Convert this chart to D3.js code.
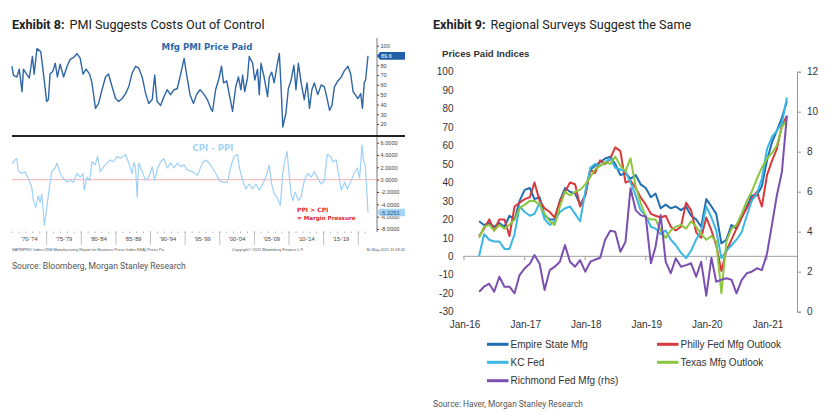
<!DOCTYPE html>
<html><head><meta charset="utf-8">
<script src="https://cdn.jsdelivr.net/npm/d3@7"></script>
<style>body{margin:0;background:#fff}svg{display:block}</style>
</head><body>
<svg id="c" width="839" height="415"></svg>
<script>
// ---------- Exhibit 8 data ----------
const pmiYears = [1970.0,1970.2,1970.7,1971.05,1971.45,1971.65,1972.1,1972.5,1972.95,1973.2,1973.6,1974.15,1974.55,1975.0,1975.25,1975.5,1975.9,1976.25,1976.55,1976.95,1977.45,1977.95,1978.4,1978.9,1979.4,1979.85,1980.25,1980.7,1981.2,1981.55,1982.05,1982.5,1983.0,1983.5,1983.95,1984.45,1984.95,1985.4,1985.9,1986.4,1986.85,1987.35,1987.85,1988.3,1988.8,1989.3,1989.75,1990.25,1990.6,1990.95,1991.45,1991.95,1992.4,1992.9,1993.4,1993.85,1994.35,1994.85,1995.2,1995.7,1996.2,1996.65,1997.15,1997.65,1998.2,1998.7,1998.95,1999.4,1999.9,2000.25,2000.55,2001.0,2001.35,2001.85,2002.3,2002.7,2003.05,2003.3,2003.6,2004.0,2004.25,2004.75,2005.05,2005.45,2005.7,2005.95,2006.4,2006.9,2007.15,2007.5,2007.85,2008.25,2008.6,2008.9,2009.1,2009.55,2009.9,2010.3,2010.7,2011.0,2011.35,2011.75,2012.2,2012.6,2012.95,2013.3,2013.65,2014.15,2014.65,2015.1,2015.5,2015.85,2016.2,2016.55,2017.05,2017.55,2017.95,2018.5,2018.9,2019.25,2019.55,2019.95,2020.35,2020.6,2020.85,2021.05,2021.25,2021.4];
const pmiValues = [79,70,68,76,53,76,71,67,89,71,97,94,71,43,45,71,74,82,68,81,68,79,86,88,92,87,71,76,71,62,36,41,55,68,71,58,46,43,46,51,58,72,79,77,68,51,41,45,70,43,39,48,55,50,55,56,71,87,71,50,41,50,55,51,45,36,33,55,67,79,62,64,51,33,58,68,55,70,53,67,89,82,65,76,50,82,68,48,68,73,62,79,92,50,17,31,56,65,80,55,82,62,45,62,36,55,62,50,60,58,46,34,39,58,64,68,74,79,71,53,50,46,51,36,62,65,79,89.6];

const cpiPpiYears = [1970.0,1970.43,1970.68,1970.9,1971.4,1971.88,1972.36,1972.85,1973.09,1973.43,1973.81,1974.06,1974.3,1974.68,1975.03,1975.4,1975.75,1976.23,1976.48,1976.96,1977.43,1977.93,1978.41,1978.88,1979.38,1979.86,1980.25,1980.43,1980.83,1981.2,1981.55,1982.03,1982.36,1982.75,1983.23,1983.72,1984.2,1984.68,1985.17,1985.65,1986.38,1986.86,1987.35,1987.58,1987.83,1988.07,1988.3,1988.8,1989.28,1989.75,1990.25,1990.58,1990.97,1991.45,1991.93,1992.42,1992.9,1993.38,1993.87,1994.35,1994.83,1995.32,1996.04,1996.77,1997.49,1997.97,1998.45,1998.94,1999.42,1999.9,2000.39,2001.12,2001.59,2002.07,2002.57,2002.8,2003.29,2003.77,2004.25,2004.74,2005.22,2005.7,2006.19,2006.67,2007.14,2007.49,2007.87,2008.36,2008.74,2009.09,2009.42,2009.71,2009.96,2010.29,2010.54,2010.87,2011.35,2011.74,2012.22,2012.71,2013.19,2013.67,2014.16,2014.64,2015.12,2015.51,2015.99,2016.33,2016.81,2017.14,2017.54,2018.01,2018.41,2018.88,2019.38,2019.86,2020.19,2020.54,2020.75,2021.0,2021.2,2021.4];
const cpiPpiValues = [2.6,3.2,3.4,1.5,1.0,1.3,0.2,-1.2,-3.4,-4.5,-2.6,-3.7,-2.3,-7.4,-4.5,-1.2,1.3,1.9,2.7,1.0,0.2,-0.4,-0.1,-0.4,1.0,0.4,1.0,-1.7,0.4,-0.1,2.9,2.4,3.8,1.3,2.1,2.7,3.2,2.9,3.8,3.5,4.1,2.7,1.0,2.7,2.1,-2.8,2.7,1.3,-0.1,0.4,2.1,-0.1,1.6,2.9,3.4,1.9,2.7,1.9,2.7,2.1,2.4,1.6,1.3,0.7,2.7,3.2,2.7,1.9,1.0,-0.1,-0.4,-0.4,2.1,3.8,4.1,2.1,-0.1,-1.5,-0.7,-1.5,-0.7,-1.7,-0.7,0.4,2.4,-0.7,-2.3,-3.1,-4.2,1.0,3.2,4.6,1.5,-2.3,-3.4,-2.0,-3.4,-2.8,-0.1,1.0,0.4,1.3,0.2,-0.7,-0.1,4.1,3.8,2.9,3.2,1.0,-1.7,-0.4,-1.5,-0.4,1.0,1.9,0.2,5.6,2.9,2.4,-1.2,-5.3253];

const pmiTicks = [100,90,80,70,60,50,40,30,20];
const cpiTicks = [6,4,2,0,-2,-4,-6,-8];
const periodStarts = [1970,1975,1980,1985,1990,1995,2000,2005,2010,2015];
const periodLabels = ["'70-'74","'75-'79","'80-'84","'85-'89","'90-'94","'95-'99","'00-'04","'05-'09","'10-'14","'15-'19"];

// ---------- Exhibit 9 data (monthly, Apr-16 .. May-21) ----------
const firstMonth = "2016-04";
const empireState = [19,17,18,16,18,16,22,20,30,36,37,31,32,22,20,20,30,37,35,34,28,33,47,49,51,53,54,50,44,45,42,44,39,37,32,34,26,28,26,27,25,27,22,20,16,31,27,23,7,9,17,15,21,27,33,33,38,52,62,68,75,84];
const phillyFed   = [11,15,20,14,20,20,11,27,29,31,32,40,30,26,24,21,30,35,40,39,27,33,47,45,52,50,53,59,57,40,41,37,32,28,23,22,21,22,16,14,16,29,25,13,10,21,14,6,-8,3,9,15,21,26,31,35,27,44,52,58,71,76];
const kcFed       = [0,12,9,8,8,4,4,12,27,24,22,23,29,20,17,19,24,26,27,23,19,35,48,50,49,51,53,48,47,46,40,33,25,22,16,15,12,14,9,6,2,-1,3,9,14,27,21,14,-1,3,6,9,13,22,30,34,42,58,65,68,72,86];
const texasMfg    = [10,16,17,14,17,15,17,20,26,28,30,30,28,23,19,17,27,35,33,35,36,39,43,47,49,51,50,54,49,46,53,38,29,21,20,20,14,10,14,16,17,15,19,16,12,9,11,8,-20,8,15,17,23,30,35,42,48,53,56,60,70,74];
const richmondFed = [1.0,1.25,1.4,1.0,1.75,1.25,1.25,0.92,1.83,2.17,2.4,2.83,2.4,1.08,2.08,2.25,2.5,3.33,2.5,2.25,2.58,2.0,2.5,2.6,2.7,3.6,4.05,4.0,3.0,3.5,6.17,5.08,4.83,4.75,2.42,3.25,4.83,2.5,1.92,2.67,2.25,2.33,2.42,1.75,2.5,0.8,2.7,1.5,1.6,1.67,1.6,0.92,1.58,1.92,2.0,2.17,2.08,2.9,4.4,5.8,7.0,9.8];
const leftTicks = [100,90,80,70,60,50,40,30,20,10,0,-10,-20,-30];
const rightTicks = [12,10,8,6,4,2,0];
const yearTickLabels = ["Jan-16","Jan-17","Jan-18","Jan-19","Jan-20","Jan-21"];
const seriesNames = ["Empire State Mfg","Philly Fed Mfg Outlook","KC Fed","Texas Mfg Outlook","Richmond Fed Mfg (rhs)"];
const seriesColors = ["#1f6fb2","#d9393b","#3ab7e2","#8cc63f","#7b4fb0"];

// ---------- drawing ----------
const svg = d3.select("#c");

function title(x, y, bold, rest) {
  const t = svg.append("text").attr("x", x).attr("y", y)
    .attr("font-family", "Roboto").attr("font-size", 12.6).attr("fill", "#222");
  t.append("tspan").attr("font-weight", "bold").text(bold);
  t.append("tspan").attr("dx", 5).text(rest);
}
title(12, 29, "Exhibit 8:", "PMI Suggests Costs Out of Control");
title(433, 29, "Exhibit 9:", "Regional Surveys Suggest the Same");

// ===== Exhibit 8 =====
const xL = d3.scaleLinear().domain([1970, 2022.7]).range([12, 377]);
const yTop = d3.scaleLinear().domain([20, 100]).range([124, 45.7]);
const yBot = d3.scaleLinear().domain([-8, 6]).range([229, 142.7]);
const smallFont = "Liberation Sans";

// PMI
svg.append("text").attr("x", 207).attr("y", 49.5).attr("text-anchor", "middle")
  .attr("font-family", "DejaVu Sans").attr("font-weight", "bold").attr("font-size", 8.6)
  .attr("fill", "#2f6aa8").text("Mfg PMI Price Paid");
svg.append("path").datum(pmiYears.map((y, i) => [y, pmiValues[i]]))
  .attr("fill", "none").attr("stroke", "#2e66a6").attr("stroke-width", 1.4)
  .attr("stroke-linejoin", "round")
  .attr("d", d3.line().x(d => xL(d[0])).y(d => yTop(d[1])));

const axTop = svg.append("g").attr("transform", "translate(377,0)")
  .call(d3.axisRight(yTop).tickValues(pmiTicks.filter(t => t !== 90)).tickSize(2).tickPadding(1.5).tickFormat(d3.format("d")));
axTop.select(".domain").remove();
axTop.selectAll("line").attr("stroke", "#444");
axTop.selectAll("text").attr("font-family", smallFont).attr("font-size", 5.6).attr("fill", "#444");

// vertical axis line
svg.append("line").attr("x1", 377).attr("x2", 377).attr("y1", 38).attr("y2", 232).attr("stroke", "#555").attr("stroke-width", 0.8);

// tag 89.6
const lastPmi = pmiValues[pmiValues.length - 1];
svg.append("path").attr("fill", "#1f5fa5")
  .attr("d", `M377,${yTop(lastPmi)} L380,${yTop(lastPmi) - 3.8} L405,${yTop(lastPmi) - 3.8} L405,${yTop(lastPmi) + 3.8} L380,${yTop(lastPmi) + 3.8} Z`);
svg.append("text").attr("x", 381).attr("y", yTop(lastPmi) + 2).attr("font-family", smallFont)
  .attr("font-size", 5.6).attr("fill", "#fff").text(lastPmi.toFixed(1));

// divider
svg.append("line").attr("x1", 12).attr("x2", 405).attr("y1", 136).attr("y2", 136).attr("stroke", "#222").attr("stroke-width", 1.8);

// CPI - PPI
svg.append("line").attr("x1", 12).attr("x2", 377).attr("y1", yBot(0)).attr("y2", yBot(0)).attr("stroke", "#f08c8c").attr("stroke-width", 0.7);
svg.append("text").attr("x", 213).attr("y", 150.5).attr("text-anchor", "middle")
  .attr("font-family", "DejaVu Sans").attr("font-weight", "bold").attr("font-size", 8.6)
  .attr("fill", "#a6d2f5").text("CPI - PPI");
svg.append("path").datum(cpiPpiYears.map((y, i) => [y, cpiPpiValues[i]]))
  .attr("fill", "none").attr("stroke", "#9fd0f7").attr("stroke-width", 1.2)
  .attr("stroke-linejoin", "round")
  .attr("d", d3.line().x(d => xL(d[0])).y(d => yBot(d[1])));

const axBot = svg.append("g").attr("transform", "translate(377,0)")
  .call(d3.axisRight(yBot).tickValues(cpiTicks).tickSize(2).tickPadding(1.5).tickFormat(d => d.toFixed(4)));
axBot.select(".domain").remove();
axBot.selectAll("line").attr("stroke", "#444");
axBot.selectAll("text").attr("font-family", smallFont).attr("font-size", 5.6).attr("fill", "#444");

svg.append("text").attr("x", 297).attr("y", 212).attr("font-family", "DejaVu Sans").attr("font-weight", "bold")
  .attr("font-size", 6).attr("fill", "#e5262b").text("PPI > CPI");
svg.append("text").attr("x", 297).attr("y", 219.5).attr("font-family", "DejaVu Sans").attr("font-weight", "bold")
  .attr("font-size", 5.6).attr("fill", "#e5262b").text("= Margin Pressure");

const lastCpi = cpiPpiValues[cpiPpiValues.length - 1];
svg.append("path").attr("fill", "#a4d3f6")
  .attr("d", `M377,${yBot(lastCpi)} L380,${yBot(lastCpi) - 3.8} L405,${yBot(lastCpi) - 3.8} L405,${yBot(lastCpi) + 3.8} L380,${yBot(lastCpi) + 3.8} Z`);
svg.append("text").attr("x", 380.5).attr("y", yBot(lastCpi) + 2).attr("font-family", smallFont)
  .attr("font-size", 5.6).attr("fill", "#1d4e7e").text(lastCpi.toFixed(4));

// period axis
const yearsAll = d3.range(1970, 2022);
svg.append("g").selectAll("line").data(yearsAll).join("line")
  .attr("x1", d => xL(d)).attr("x2", d => xL(d)).attr("y1", 231.5).attr("y2", 233)
  .attr("stroke", "#777").attr("stroke-width", 0.6);
svg.append("g").selectAll("line").data(periodStarts.slice(1).concat([2020])).join("line")
  .attr("x1", d => xL(d)).attr("x2", d => xL(d)).attr("y1", 231.5).attr("y2", 245)
  .attr("stroke", "#999").attr("stroke-width", 0.6);
svg.append("g").selectAll("text").data(periodLabels).join("text")
  .attr("x", (d, i) => xL(periodStarts[i] + 2.5)).attr("y", 241)
  .attr("text-anchor", "middle").attr("font-family", smallFont).attr("font-size", 5.6).attr("fill", "#444")
  .text(d => d);

const foot = (x, y, t, anchor) => svg.append("text").attr("x", x).attr("y", y).attr("text-anchor", anchor || "start")
  .attr("font-family", smallFont).attr("font-size", 3.9).attr("fill", "#555").text(t);
foot(12, 250.5, "NAPMPRIC Index (ISM Manufacturing Report on Business Prices Index NSA) Prices Pa");
foot(232, 250.5, "Copyright\u00a9 2021 Bloomberg Finance L.P.");
foot(405, 250.5, "30-May-2021 11:09:42", "end");

svg.append("text").attr("x", 12).attr("y", 269).attr("font-family", "Roboto").attr("font-size", 8.6)
  .attr("fill", "#555").text("Source: Bloomberg, Morgan Stanley Research");

// ===== Exhibit 9 =====
const months = d3.timeMonth.range(d3.timeParse("%Y-%m")(firstMonth), new Date(2021, 5, 1));
const xR = d3.scaleTime().domain([new Date(2016, 0, 1), new Date(2021, 0, 1)]).range([464, 767]);
const yL = d3.scaleLinear().domain([-30, 100]).range([311.7, 71.7]);
const yR = d3.scaleLinear().domain([0, 12]).range([311.7, 71.7]);
const arial = "Liberation Sans";

svg.append("text").attr("x", 442).attr("y", 56.5).attr("font-family", arial).attr("font-weight", "bold")
  .attr("font-size", 9.6).attr("fill", "#333").text("Prices Paid Indices");

const axL = svg.append("g").attr("transform", "translate(456,0)")
  .call(d3.axisLeft(yL).tickValues(leftTicks).tickSize(0).tickPadding(2.5).tickFormat(d => String(d)));
axL.select(".domain").remove();
axL.selectAll("text").attr("font-family", arial).attr("font-size", 10).attr("fill", "#333");

const axR = svg.append("g").attr("transform", "translate(797,0)")
  .call(d3.axisRight(yR).tickValues(rightTicks).tickSize(4).tickPadding(6).tickFormat(d => String(d)));
axR.select(".domain").attr("stroke", "#999");
axR.selectAll("line").attr("stroke", "#999");
axR.selectAll("text").attr("font-family", arial).attr("font-size", 10).attr("fill", "#333");

// x axis at zero
const yearDates = d3.range(2016, 2022).map(y => new Date(y, 0, 1));
svg.append("line").attr("x1", 463).attr("x2", 797).attr("y1", yL(0)).attr("y2", yL(0)).attr("stroke", "#a0a0a0").attr("stroke-width", 1);
svg.append("g").selectAll("line").data(yearDates).join("line")
  .attr("x1", d => xR(d)).attr("x2", d => xR(d)).attr("y1", yL(0)).attr("y2", yL(0) + 4)
  .attr("stroke", "#a0a0a0");
svg.append("g").selectAll("text").data(yearTickLabels).join("text")
  .attr("x", (d, i) => xR(yearDates[i]) + 1).attr("y", 328).attr("text-anchor", "middle")
  .attr("font-family", arial).attr("font-size", 10).attr("fill", "#333").text(d => d);

const seriesData = [empireState, phillyFed, kcFed, texasMfg];
const lineL = d3.line().x((d, i) => xR(months[i])).y(d => yL(d));
const lineR = d3.line().x((d, i) => xR(months[i])).y(d => yR(d));
seriesData.forEach((s, k) => {
  svg.append("path").datum(s).attr("fill", "none").attr("stroke", seriesColors[k])
    .attr("stroke-width", 2).attr("stroke-linejoin", "round").attr("d", lineL);
});
svg.append("path").datum(richmondFed).attr("fill", "none").attr("stroke", seriesColors[4])
  .attr("stroke-width", 2).attr("stroke-linejoin", "round").attr("d", lineR);

// legend
const legPos = [[487, 344.3], [657, 344.3], [487, 362.3], [657, 362.3], [487, 380.7]];
seriesNames.forEach((n, i) => {
  const [lx, ly] = legPos[i];
  svg.append("line").attr("x1", lx).attr("x2", lx + 21.5).attr("y1", ly).attr("y2", ly)
    .attr("stroke", seriesColors[i]).attr("stroke-width", 3);
  svg.append("text").attr("x", lx + 23.5).attr("y", ly + 3.6).attr("font-family", arial)
    .attr("font-size", 10).attr("fill", "#333").text(n);
});

svg.append("text").attr("x", 433).attr("y", 407).attr("font-family", "Roboto").attr("font-size", 8.4)
  .attr("fill", "#555").text("Source: Haver, Morgan Stanley Research");
</script>
</body></html>
